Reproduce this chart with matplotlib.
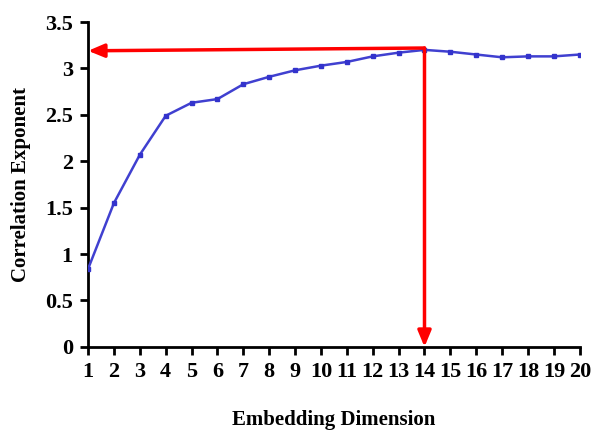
import matplotlib
matplotlib.use('Agg')
import matplotlib.pyplot as plt
import numpy as np

dims = np.arange(1, 21)
corr_exp = [0.84, 1.55, 2.07, 2.49, 2.63, 2.67, 2.83, 2.91, 2.98, 3.03,
            3.07, 3.13, 3.17, 3.20, 3.18, 3.15, 3.12, 3.13, 3.13, 3.15]
sat_dim = 14
sat_val = 3.22
sat_val_left = 3.19

plt.rcParams['font.family'] = ['Liberation Serif', 'DejaVu Serif']
plt.rcParams['font.weight'] = 'bold'

fig = plt.figure(figsize=(5.91, 4.32), dpi=100)
ax = fig.add_axes([0.149, 0.197, 0.832, 0.752])

ax.plot(dims, corr_exp, color='#4040d0', lw=1.8, marker='s', ms=3.5,
        markerfacecolor='#3333cc', markeredgecolor='#3333cc', zorder=3)

# arrows marking the saturation point
arrow_style = dict(arrowstyle='-|>,head_length=0.6,head_width=0.25', color='red', lw=2.5,
                   mutation_scale=16, shrinkA=0, shrinkB=0)
ax.annotate('', xy=(1, sat_val_left), xytext=(sat_dim, sat_val),
            arrowprops=arrow_style, zorder=4)
ax.annotate('', xy=(sat_dim, 0), xytext=(sat_dim, sat_val),
            arrowprops=arrow_style, zorder=4)

ax.set_xlim(1, 20)
ax.set_ylim(0, 3.5)
ax.set_xticks(dims)
ax.set_yticks(np.arange(0, 3.51, 0.5))
ax.set_yticklabels(['0', '0.5', '1', '1.5', '2', '2.5', '3', '3.5'])

for s in ['top', 'right']:
    ax.spines[s].set_visible(False)
for s in ['left', 'bottom']:
    ax.spines[s].set_linewidth(2)
ax.tick_params(width=2, length=6, labelsize=16, pad=5)

ax.set_xlabel('Embedding Dimension', fontsize=15, fontweight='bold', labelpad=20)
ax.set_ylabel('Correlation Exponent', fontsize=15, fontweight='bold', labelpad=10)

fig.savefig('out.png', dpi=100)
